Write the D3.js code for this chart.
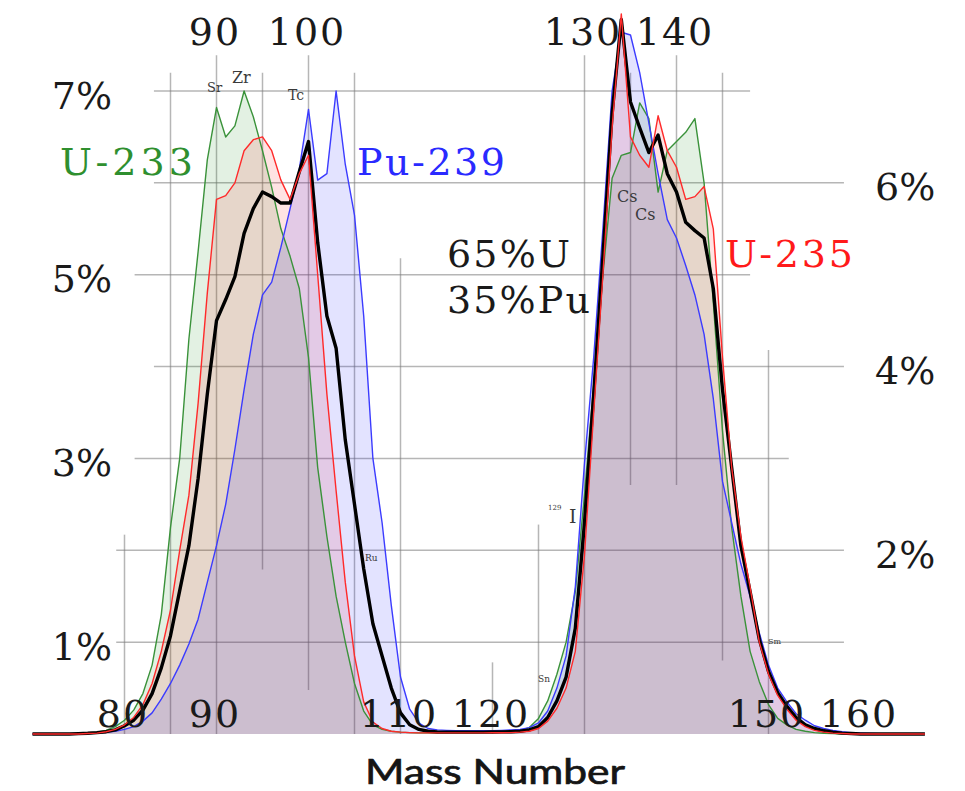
<!DOCTYPE html>
<html>
<head>
<meta charset="utf-8">
<script src="https://cdn.jsdelivr.net/npm/d3@7"></script>
<style>
body { margin: 0; background: #fff; }
svg { display: block; }
</style>
</head>
<body>
<svg width="965" height="791"></svg>
<script>
// mass numbers on the x axis, yields in percent
var massNumbers = [
    70, 71, 72, 73, 74, 75, 76, 77, 78, 79,
    80, 81, 82, 83, 84, 85, 86, 87, 88, 89,
    90, 91, 92, 93, 94, 95, 96, 97, 98, 99,
    100, 101, 102, 103, 104, 105, 106, 107, 108, 109,
    110, 111, 112, 113, 114, 115, 116, 117, 118, 119,
    120, 121, 122, 123, 124, 125, 126, 127, 128, 129,
    130, 131, 132, 133, 134, 135, 136, 137, 138, 139,
    140, 141, 142, 143, 144, 145, 146, 147, 148, 149,
    150, 151, 152, 153, 154, 155, 156, 157, 158, 159,
    160, 161, 162, 163, 164, 165, 166, 167
];
var u233 = [
    0, 0, 0, 0, 0, 0.005, 0.01, 0.02, 0.04, 0.08,
    0.15, 0.26, 0.44, 0.75, 1.3, 2.25, 3.0, 4.3, 5.25, 6.25,
    6.82, 6.5, 6.62, 7.0, 6.72, 6.35, 5.95, 5.5, 5.2, 4.85,
    4.1, 2.9, 2.15, 1.5, 1.0, 0.55, 0.25, 0.1, 0.05, 0.03,
    0.02, 0.015, 0.012, 0.012, 0.012, 0.012, 0.012, 0.012, 0.013, 0.015,
    0.018, 0.02, 0.025, 0.04, 0.07, 0.17, 0.36, 0.65, 1.0, 1.55,
    2.6, 3.8, 5.0, 6.05, 6.3, 6.33, 6.87, 6.7, 5.9, 6.35,
    6.45, 6.55, 6.7, 6.0, 4.7, 3.3, 2.25, 1.5, 0.9, 0.57,
    0.32, 0.17, 0.1, 0.05, 0.03, 0.015, 0.008, 0.004, 0, 0,
    0, 0, 0, 0, 0, 0, 0, 0
];
var u235 = [
    0, 0, 0, 0, 0, 0, 0.005, 0.01, 0.025, 0.05,
    0.1, 0.18, 0.32, 0.55, 0.9, 1.35, 2.0, 2.6, 3.6, 4.8,
    5.82, 5.86, 6.0, 6.35, 6.47, 6.5, 6.35, 6.03, 5.82, 6.1,
    6.3, 5.0, 3.7, 2.65, 1.65, 0.85, 0.35, 0.13, 0.06, 0.03,
    0.02, 0.015, 0.012, 0.012, 0.012, 0.012, 0.012, 0.012, 0.012, 0.012,
    0.013, 0.014, 0.015, 0.02, 0.03, 0.06, 0.14, 0.28, 0.5, 0.9,
    1.95, 3.5, 5.0, 6.6, 7.84, 6.5, 6.3, 6.17, 6.73, 6.35,
    6.17, 5.82, 5.85, 5.96, 5.5, 4.1, 2.9, 2.15, 1.6, 1.0,
    0.65, 0.42, 0.27, 0.15, 0.08, 0.04, 0.02, 0.01, 0.005, 0,
    0, 0, 0, 0, 0, 0, 0, 0
];
var pu239 = [
    0, 0, 0, 0, 0, 0.003, 0.006, 0.01, 0.02, 0.03,
    0.05, 0.08, 0.14, 0.23, 0.38, 0.55, 0.75, 0.98, 1.25, 1.65,
    2.05, 2.5, 3.1, 3.75, 4.35, 4.78, 4.92, 5.3, 5.72, 6.15,
    6.8, 6.03, 6.1, 7.0, 6.2, 5.65, 4.55, 3.0, 2.3, 1.4,
    0.62, 0.27, 0.12, 0.06, 0.045, 0.04, 0.035, 0.035, 0.035, 0.035,
    0.037, 0.04, 0.045, 0.05, 0.07, 0.12, 0.25, 0.5, 0.85, 1.6,
    2.95, 4.1, 5.5, 7.0, 7.64, 7.61, 7.2, 6.65, 6.1, 5.6,
    5.4, 5.1, 4.78, 4.35, 3.65, 2.75, 2.3, 1.85, 1.5, 1.1,
    0.75, 0.5, 0.35, 0.22, 0.15, 0.09, 0.06, 0.04, 0.025, 0.015,
    0.01, 0.006, 0.003, 0, 0, 0, 0, 0
];
// 65% U / 35% Pu mixture
var mix = [
    0, 0, 0, 0, 0, 0.004, 0.008, 0.015, 0.025, 0.045,
    0.09, 0.15, 0.26, 0.44, 0.72, 1.07, 1.56, 2.05, 2.78, 3.7,
    4.5, 4.73, 4.98, 5.45, 5.72, 5.9, 5.85, 5.78, 5.78, 6.12,
    6.45, 5.35, 4.55, 4.2, 3.2, 2.5, 1.8, 1.2, 0.85, 0.5,
    0.23, 0.1, 0.05, 0.03, 0.022, 0.02, 0.02, 0.02, 0.02, 0.02,
    0.021, 0.023, 0.025, 0.03, 0.045, 0.08, 0.18, 0.36, 0.62, 1.15,
    2.3, 3.7, 5.2, 6.75, 7.78, 6.88, 6.6, 6.33, 6.52, 6.1,
    5.9, 5.57, 5.48, 5.4, 4.85, 3.75, 2.9, 2.05, 1.55, 1.03,
    0.68, 0.45, 0.3, 0.18, 0.1, 0.06, 0.035, 0.02, 0.01, 0.005,
    0, 0, 0, 0, 0, 0, 0, 0
];

var topTicks = [90, 100, 130, 140];
var bottomTicks = [80, 90, 110, 120, 150, 160];
var leftTicks = [1, 3, 5, 7];
var rightTicks = [2, 4, 6];

// grid segments: [value, from, to]
var hGrid = [[7, 83.2, 148], [6, 83.2, 158.2], [5, 81.1, 148], [4, 83.2, 158.2],
    [3, 81.1, 152.2], [2, 79.1, 158.2], [1, 79.1, 158.2]];
var vGrid = [[80, 0, 2.17], [85, 0, 7.2], [90, 0, 7.39], [95, 1.79, 7.2], [100, 0.48, 7.39],
    [105, 0, 7.2], [110, 0, 5.18], [120, 0, 0.78], [125, 0, 2.28], [130, 0, 7.39],
    [135, 2.71, 7.2], [140, 2.71, 7.39], [145, 0.8, 7.2], [150, 0, 4.18]];

var svg = d3.select("svg");
var x = d3.scaleLinear().domain([80, 150]).range([124.5, 768.5]);
var y = d3.scaleLinear().domain([0, 7]).range([734, 91]);
var serif = "'DejaVu Serif', serif";

svg.append("rect").attr("width", 965).attr("height", 791).attr("fill", "#fff");

var grid = svg.append("g")
    .attr("stroke", "#7a7a7a")
    .attr("stroke-opacity", 0.55)
    .attr("stroke-width", 1.5);
grid.selectAll(".h").data(hGrid).enter().append("line")
    .attr("x1", function(d){ return x(d[1]); })
    .attr("x2", function(d){ return x(d[2]); })
    .attr("y1", function(d){ return y(d[0]); })
    .attr("y2", function(d){ return y(d[0]); });
grid.selectAll(".v").data(vGrid).enter().append("line")
    .attr("x1", function(d){ return x(d[0]); })
    .attr("x2", function(d){ return x(d[0]); })
    .attr("y1", function(d){ return y(d[1]); })
    .attr("y2", function(d){ return y(d[2]); });

function toPoints(values){
    return values.map(function(v, i){ return {mass: massNumbers[i], value: v}; });
}

var area = d3.area()
    .x(function(d){ return x(d.mass); })
    .y0(y(0))
    .y1(function(d){ return y(d.value); });
var line = d3.line()
    .x(function(d){ return x(d.mass); })
    .y(function(d){ return y(d.value); });

var fills = [
    {values: u233, color: "#008000"},
    {values: u235, color: "#ff0000"},
    {values: pu239, color: "#0000ff"}
];
fills.forEach(function(f){
    svg.append("path")
        .attr("d", area(toPoints(f.values)))
        .attr("fill", f.color)
        .attr("fill-opacity", 0.11);
});

var lines = [
    {values: u233, color: "#3a923a", width: 1.4},
    {values: pu239, color: "#3b3bff", width: 1.4},
    {values: mix, color: "#000", width: 3.4},
    {values: u235, color: "#ff2a2a", width: 1.4}
];
lines.forEach(function(l){
    svg.append("path")
        .attr("d", line(toPoints(l.values)))
        .attr("fill", "none")
        .attr("stroke", l.color)
        .attr("stroke-width", l.width)
        .attr("stroke-linejoin", "round");
});

function styleAxis(g){
    g.select(".domain").remove();
    g.selectAll("text")
        .attr("font-family", serif)
        .attr("font-size", 38)
        .attr("letter-spacing", 2)
        .attr("fill", "#1a1a1a");
}

var topAxis = svg.append("g")
    .attr("transform", "translate(-2,45)")
    .call(d3.axisTop(x).tickValues(topTicks).tickSize(0).tickPadding(0).tickFormat(d3.format("d")));
styleAxis(topAxis);
topAxis.selectAll("text").attr("dy", "0");

var bottomAxis = svg.append("g")
    .attr("transform", "translate(-2,727)")
    .call(d3.axisBottom(x).tickValues(bottomTicks).tickSize(0).tickPadding(0).tickFormat(d3.format("d")));
styleAxis(bottomAxis);
bottomAxis.selectAll("text").attr("dy", "0");

var leftAxis = svg.append("g")
    .attr("transform", "translate(112,0)")
    .call(d3.axisLeft(y).tickValues(leftTicks).tickSize(0).tickPadding(0).tickFormat(function(d){ return d + "%"; }));
styleAxis(leftAxis);
leftAxis.selectAll("text").attr("dy", "0.45em").attr("letter-spacing", 0);

var rightAxis = svg.append("g")
    .attr("transform", "translate(875,0)")
    .call(d3.axisRight(y).tickValues(rightTicks).tickSize(0).tickPadding(0).tickFormat(function(d){ return d + "%"; }));
styleAxis(rightAxis);
rightAxis.selectAll("text").attr("dy", "0.45em").attr("letter-spacing", 0);

// series labels
var labels = [
    {text: "U-233", x: 60, y: 175, w: 133, color: "#2f8f2f"},
    {text: "Pu-239", x: 357, y: 175, w: 148, color: "#2a2aff"},
    {text: "U-235", x: 725, y: 267, w: 128, color: "#ff1a1a"},
    {text: "65%U", x: 447, y: 267, w: 123, color: "#1a1a1a"},
    {text: "35%Pu", x: 447, y: 313, w: 143, color: "#1a1a1a"}
];
labels.forEach(function(l){
    svg.append("text")
        .attr("x", l.x)
        .attr("y", l.y)
        .attr("textLength", l.w)
        .attr("lengthAdjust", "spacing")
        .attr("font-family", serif)
        .attr("font-size", 38)
        .attr("fill", l.color)
        .text(l.text);
});

// element tags
var tags = [
    {text: "Sr", x: 207, y: 92, size: 13},
    {text: "Zr", x: 232, y: 83, size: 16},
    {text: "Tc", x: 288, y: 100, size: 14},
    {text: "Cs", x: 617, y: 202, size: 16},
    {text: "Cs", x: 635, y: 220, size: 16},
    {text: "129", x: 548, y: 510, size: 7},
    {text: "I", x: 569, y: 523, size: 19},
    {text: "Ru", x: 365, y: 561, size: 9},
    {text: "Sn", x: 538, y: 682, size: 9},
    {text: "Sm", x: 768, y: 644, size: 8}
];
svg.selectAll(".tag").data(tags).enter().append("text")
    .attr("x", function(d){ return d.x; })
    .attr("y", function(d){ return d.y; })
    .attr("font-family", serif)
    .attr("font-size", function(d){ return d.size; })
    .attr("fill", "#3a3a3a")
    .text(function(d){ return d.text; });

svg.append("text")
    .attr("x", 365)
    .attr("y", 784)
    .attr("textLength", 260)
    .attr("lengthAdjust", "spacingAndGlyphs")
    .attr("font-family", "Lato, 'DejaVu Sans', sans-serif")
    .attr("font-size", 34)
    .attr("fill", "#151515")
    .attr("stroke", "#151515")
    .attr("stroke-width", 0.7)
    .text("Mass Number");
</script>
</body>
</html>
